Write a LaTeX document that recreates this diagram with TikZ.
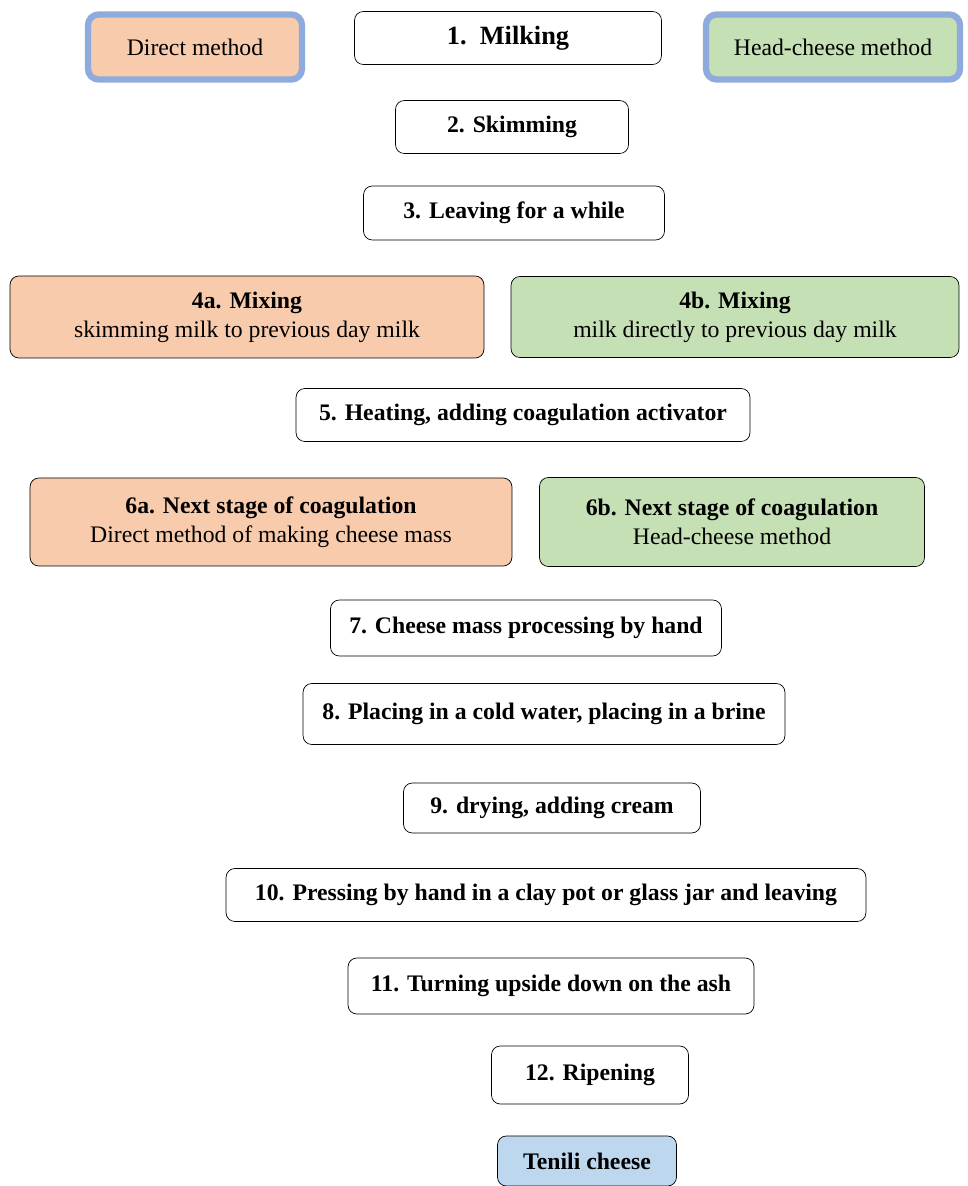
\documentclass[tikz,border=0pt]{standalone}
\usepackage{fontspec}
\setmainfont{Liberation Serif}
\usepackage{tikz}
\usetikzlibrary{positioning}

\definecolor{peach}{HTML}{F8CBAD}
\definecolor{leaf}{HTML}{C5E0B4}
\definecolor{sky}{HTML}{BDD7EE}
\definecolor{frame}{HTML}{8FAADC}

\begin{document}
\begin{tikzpicture}[x=0.02cm, y=-0.02cm,
    stepbox/.style={draw, thin, rounded corners=5pt, inner sep=2pt, align=center,
      font=\fontsize{13.5}{16.5}\selectfont\bfseries},
    methodbox/.style={draw=frame, line width=3.6pt, rounded corners=6pt, align=center,
      font=\fontsize{13.5}{16.5}\selectfont},
    directfill/.style={fill=peach},
    headfill/.style={fill=leaf}]
      \useasboundingbox (0,0) rectangle (967,1186);

      % methods and first steps
      \node [methodbox, directfill, minimum width=4.28cm, minimum height=1.3cm] (direct) at (195,47) {Direct method};
      \node [stepbox, minimum width=6.14cm, minimum height=1.06cm] (milk) at (508,38) {\fontsize{15}{17}\selectfont 1.\ \ Milking};
      \node [methodbox, headfill, minimum width=5.08cm, minimum height=1.3cm] (head) at (833,47) {Head-cheese method};

      \node [stepbox, minimum width=4.66cm, minimum height=1.06cm] (skim) at (512,127) {2. Skimming};
      \node [stepbox, minimum width=6.02cm, minimum height=1.08cm] (leave) at (514,213) {3. Leaving for a while};

      % mixing
      \node [stepbox, directfill, minimum width=9.48cm, minimum height=1.64cm] (mixa) at (247,317)
      {4a. Mixing\\ \mdseries skimming milk to previous day milk};
      \node [stepbox, headfill, minimum width=8.96cm, minimum height=1.62cm] (mixb) at (735,317)
      {4b. Mixing\\ \mdseries milk directly to previous day milk};

      \node [stepbox, minimum width=9.08cm, minimum height=1.06cm] (heat) at (523,415) {5. Heating, adding coagulation activator};

      % coagulation
      \node [stepbox, directfill, minimum width=9.64cm, minimum height=1.76cm] (coaga) at (271,522)
      {6a. Next stage of coagulation\\ \mdseries Direct method of making cheese mass};
      \node [stepbox, headfill, minimum width=7.7cm, minimum height=1.78cm] (coagb) at (732,522)
      {6b. Next stage of coagulation\\ \mdseries Head-cheese method};

      % last steps
      \node [stepbox, minimum width=7.82cm, minimum height=1.12cm] (hand) at (526,628) {7. Cheese mass processing by hand};
      \node [stepbox, minimum width=9.64cm, minimum height=1.22cm] (brine) at (544,714) {8. Placing in a cold water, placing in a brine};
      \node [stepbox, minimum width=5.94cm, minimum height=1.0cm] (dry) at (552,808) {9. drying, adding cream};
      \node [stepbox, minimum width=12.8cm, minimum height=1.06cm] (press) at (546,895) {10. Pressing by hand in a clay pot or glass jar and leaving};
      \node [stepbox, minimum width=8.12cm, minimum height=1.12cm] (turn) at (551,986) {11. Turning upside down on the ash};
      \node [stepbox, minimum width=3.94cm, minimum height=1.16cm] (ripe) at (590,1075) {12. Ripening};
      \node [stepbox, fill=sky, minimum width=3.58cm, minimum height=1.0cm] (tenili) at (587,1161) {Tenili cheese};
    \end{tikzpicture}
\end{document}
